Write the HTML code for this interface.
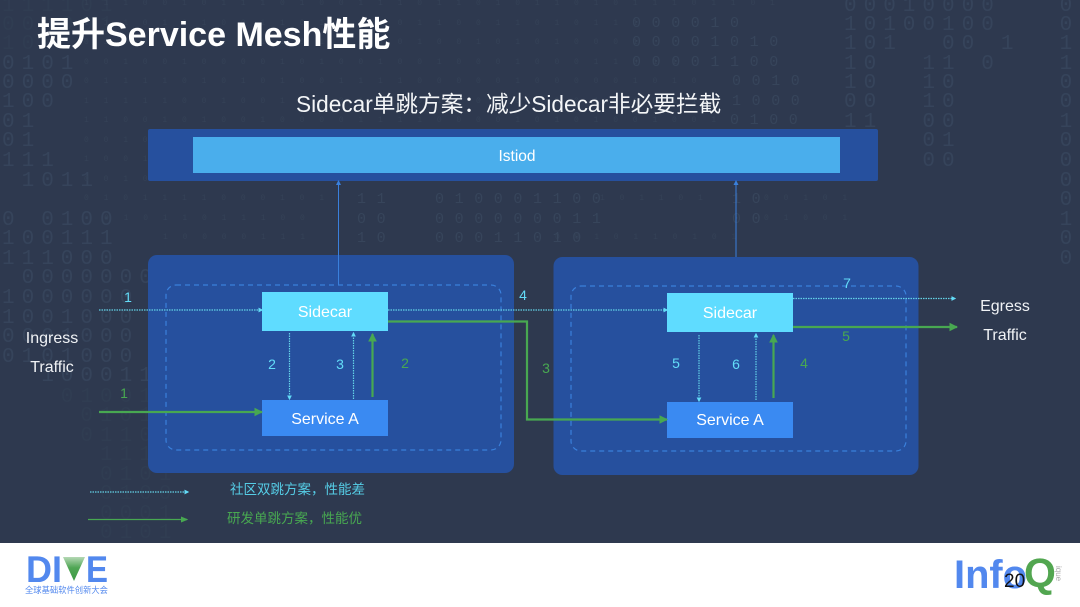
<!DOCTYPE html>
<html lang="zh-CN">
<head>
<meta charset="utf-8">
<title>提升Service Mesh性能</title>
<style>
html,body{margin:0;padding:0;width:1080px;height:607px;overflow:hidden;background:#2e394f}
svg{display:block}
text{font-family:"Liberation Sans","Noto Sans CJK SC",sans-serif}
.bm text,.bd text,.bs text,.bc text{white-space:pre;font-family:"Liberation Mono",monospace}
.bm text{font-size:21px;letter-spacing:-2.8px;fill:#36445b}
.bd text{font-size:21px;letter-spacing:-2.8px;fill:#303d52}
.bs text{font-size:8px;letter-spacing:5px;fill:#354257}
.bc text{font-size:15px;letter-spacing:.8px;fill:#37455b}
.w{fill:#fff;font-size:16px;text-anchor:middle}
.c{fill:#63dcf8;font-size:14px;text-anchor:middle}
.g{fill:#48a851;font-size:14px;text-anchor:middle}
</style>
</head>
<body>
<svg width="1080" height="607" viewBox="0 0 1080 607" xmlns="http://www.w3.org/2000/svg">
<defs>
<marker id="ag" markerWidth="4" markerHeight="4" refX="3.500" refY="2" orient="auto"><path d="M0 0L4 2L0 4Z" fill="#48a851"/></marker>
<marker id="ag2" markerWidth="6" markerHeight="6" refX="5" refY="3" orient="auto"><path d="M0 .5L6 3L0 5.500Z" fill="#48a851"/></marker>
<marker id="ac" markerWidth="4" markerHeight="4" refX="3" refY="2" orient="auto"><path d="M0 0L4 2L0 4Z" fill="#63dcf8"/></marker>
<marker id="ab" markerWidth="5" markerHeight="5" refX="4" refY="2.500" orient="auto"><path d="M0 0L5 2.500L0 5Z" fill="#3a80dc"/></marker>
<linearGradient id="vg" x1="0" y1="0" x2="0" y2="1"><stop offset="0" stop-color="#b5d8b5"/><stop offset=".45" stop-color="#4fa654"/><stop offset="1" stop-color="#3d9a45"/></linearGradient>
</defs>
<rect width="1080" height="607" fill="#2e394f"/>

<g class="bd">
<text x="2" y="11">1 1 1 1 0 1</text>
<text x="2" y="30">0 0   0 0 1</text>
<text x="2" y="49">1 0</text>
<text x="2" y="402">      0 1 0 0 1 0</text>
<text x="2" y="421">        0 1 0 1 1 1</text>
<text x="2" y="441">        0 1 1 0 1</text>
<text x="2" y="460">          1 1 1 0</text>
<text x="2" y="480">          0 1 0 1</text>
<text x="2" y="499">          0 1 0 0</text>
<text x="2" y="519">          0 0 0 1</text>
<text x="2" y="538">          0 1 0 1</text>
</g>
<g class="bm">
<text x="2" y="69">0 1 0 1</text>
<text x="2" y="88">0 0 0 0</text>
<text x="2" y="107">1 0 0</text>
<text x="2" y="127">0 1</text>
<text x="2" y="146">0 1</text>
<text x="2" y="166">1 1 1</text>
<text x="2" y="186">  1 0 1 1</text>
<text x="2" y="225">0   0 1 0 0</text>
<text x="2" y="244">1 0 0 1 1 1</text>
<text x="2" y="264">1 1 1 0 0 0</text>
<text x="2" y="283">  0 0 0 0 0 0 0</text>
<text x="2" y="303">1 0 0 0 0 0 0</text>
<text x="2" y="323">1 0 0 1 0 0 0</text>
<text x="2" y="342">0 0 0 1 0 0 0</text>
<text x="2" y="362">0 1 0 1 0 0 0</text>
<text x="2" y="381">    1 0 0 0 1 1 1</text>

<text x="844" y="11">0 0 0 1 0 0 0 0       0 1 0</text>
<text x="844" y="30">1 0 1 0 0 1 0 0       0 0 0</text>
<text x="844" y="49">1 0 1     0 0   1     1 0 1</text>
<text x="844" y="69">1 0     1 1   0       1 0</text>
<text x="844" y="88">1 0     1 0           0 1</text>
<text x="844" y="107">0 0     1 0           0 1</text>
<text x="844" y="127">1 1     0 0           1 0</text>
<text x="844" y="146">        0 1           0 1</text>
<text x="844" y="166">        0 0           0 0</text>
<text x="844" y="186">                      0 0</text>
<text x="844" y="205">                      0 1</text>
<text x="844" y="225">                      1 0</text>
<text x="844" y="244">                      0 0</text>
<text x="844" y="264">                      0</text>
</g>

<g class="bs">
<text x="84" y="5">1 1 1 0 0 1 0 1 1 1 0 1 0 0 1 1 1 0 1 1 0 1 0 1 1 0 1 0 1 1 1 0 1 1 0 1</text>
<text x="84" y="25">1 1 1 0 1 0 1 0 0 1 1 0 1 1 0 1 0 1 1 0 0 1 1 0 1 0 1 1 1</text>
<text x="84" y="44">0 1 0 0 1 1 0 1 0 1 1 0 1 1 1 0 0 1 0 0 1 0 1 0 1 0 0 0 1</text>
<text x="84" y="64">0 0 1 0 0 1 0 0 0 0 1 0 1 0 0 1 0 0 1 0 0 0 1 0 0 0 1 1 0 1 1</text>
<text x="84" y="83">0 1 1 1 1 0 1 0 1 0 1 0 0 1 1 1 1 0 0 0 0 0 1 0 0 0 0 0 1 0 1 0</text>
<text x="84" y="103">1 1 1 1 1 0 0 1 0 0 1 1 0 0 1 0 1 0 1 1 0 0 0 0 0 0 1 0 1 0 1 1</text>
<text x="84" y="122">1 1 0 0 1 0 1 0 0 1 0 0 0 0 1 1 1 1 0 0 0 0 1 0 1 0 1 0 0 1 0 0 1</text>
<text x="84" y="142">0 0 1 0 0 1 1 0 0 1 0</text>
<text x="84" y="161">1 0 0 1 1 0 1 0 1 1 0</text>
<text x="84" y="181">0 0 1 0 1 0 0 1 1 0</text>
<text x="84" y="200">0 1 0 1 1 1 1 0 0 0 1 0 1</text>
<text x="104" y="220">0 1 0 1 1 0 1 1 1 0 0</text>
<text x="163" y="239">1 0 0 0 0 1 1 1</text>
<text x="600" y="200">1 0 1 1 0 1</text>
<text x="764" y="200">0 0 1 0 1</text>
<text x="764" y="220">0 1 0 0 1</text>
<text x="555" y="239">0 0 1 0 1 1 0 1 0 1</text>
</g>

<g class="bc">
<text x="632" y="27">0 0 0 0 1 0</text>
<text x="632" y="46">0 0 0 0 1 0 1 0</text>
<text x="632" y="66">0 0 0 0 1 1 0 0</text>
<text x="732" y="85">0 0 1 0</text>
<text x="732" y="105">1 0 0 0</text>
<text x="730" y="124">0 1 0 0</text>
<text x="357" y="203">1 1</text>
<text x="357" y="223">0 0</text>
<text x="357" y="242">1 0</text>
<text x="435" y="203">0 1 0 0 0 1 1 0 0</text>
<text x="435" y="223">0 0 0 0 0 0 0 1 1</text>
<text x="435" y="242">0 0 0 1 1 0 1 0</text>
<text x="732" y="203">1 0</text>
<text x="732" y="223">0 0</text>
</g>

<text x="37" y="46" fill="#fff" font-size="34" font-weight="700">提升Service Mesh性能</text>
<text x="296" y="112" fill="#f4f6f8" font-size="22.650">Sidecar单跳方案：减少Sidecar非必要拦截</text>

<rect x="148" y="129" width="730" height="52" rx="2" fill="#26509e"/>
<rect x="193" y="137" width="647" height="36" fill="#4aaeec"/>
<text x="517" y="161" fill="#fff" font-size="15.500" text-anchor="middle">Istiod</text>

<rect x="148" y="255" width="366" height="218" rx="9" fill="#26509e"/>
<rect x="553.500" y="257" width="365" height="218" rx="9" fill="#26509e"/>
<rect x="166" y="285" width="335" height="165" rx="10" fill="none" stroke="#3a80dc" stroke-width="1.200" stroke-dasharray="5 4"/>
<rect x="571" y="286" width="335" height="165" rx="10" fill="none" stroke="#3a80dc" stroke-width="1.200" stroke-dasharray="5 4"/>

<line x1="338.500" y1="285" x2="338.500" y2="181" stroke="#3a80dc" stroke-width="1" marker-end="url(#ab)"/>
<line x1="736" y1="257" x2="736" y2="181" stroke="#3a80dc" stroke-width="1" marker-end="url(#ab)"/>

<rect x="262" y="292" width="126" height="39" fill="#5fdcff"/>
<rect x="262" y="400" width="126" height="36" fill="#3a8af2"/>
<rect x="667" y="293" width="126" height="39" fill="#5fdcff"/>
<rect x="667" y="402" width="126" height="36" fill="#3a8af2"/>
<text class="w" x="325" y="317">Sidecar</text>
<text class="w" x="325" y="424">Service A</text>
<text class="w" x="730" y="318">Sidecar</text>
<text class="w" x="730" y="425">Service A</text>

<g fill="none" stroke="#63d2e6" stroke-width="1.200" stroke-dasharray="1.500 1">
<line x1="99" y1="310" x2="262" y2="310" marker-end="url(#ac)"/>
<line x1="388" y1="310" x2="667" y2="310" marker-end="url(#ac)"/>
<line x1="289.500" y1="333" x2="289.500" y2="399" marker-end="url(#ac)"/>
<line x1="353.500" y1="399" x2="353.500" y2="333" marker-end="url(#ac)"/>
<line x1="699" y1="335" x2="699" y2="401" marker-end="url(#ac)"/>
<line x1="756" y1="400" x2="756" y2="334" marker-end="url(#ac)"/>
<line x1="793" y1="298.500" x2="955" y2="298.500" marker-end="url(#ac)"/>
<line x1="90" y1="492" x2="188" y2="492" marker-end="url(#ac)"/>
</g>

<g fill="none" stroke="#48a851" stroke-width="2.200">
<line x1="99" y1="412" x2="262" y2="412" marker-end="url(#ag)"/>
<line x1="372.500" y1="397" x2="372.500" y2="334" marker-end="url(#ag)"/>
<path d="M388 321.500H527V419.500H667" marker-end="url(#ag)"/>
<line x1="773.500" y1="398" x2="773.500" y2="335" marker-end="url(#ag)"/>
<line x1="793" y1="327" x2="957" y2="327" marker-end="url(#ag)"/>
<line x1="88" y1="519.500" x2="187" y2="519.500" stroke-width="1.200" marker-end="url(#ag2)"/>
</g>

<text class="c" x="128" y="302">1</text>
<text class="c" x="272" y="369">2</text>
<text class="c" x="340" y="369">3</text>
<text class="c" x="523" y="300">4</text>
<text class="c" x="676" y="368">5</text>
<text class="c" x="736" y="369">6</text>
<text class="c" x="847" y="288">7</text>
<text class="g" x="124" y="398">1</text>
<text class="g" x="405" y="368">2</text>
<text class="g" x="546" y="373">3</text>
<text class="g" x="804" y="368">4</text>
<text class="g" x="846" y="341">5</text>

<g fill="#f0f2f5" font-size="16" text-anchor="middle">
<text x="52" y="343">Ingress</text>
<text x="52" y="372">Traffic</text>
<text x="1005" y="311">Egress</text>
<text x="1005" y="340">Traffic</text>
</g>

<text x="230" y="494" fill="#55cde6" font-size="13.500">社区双跳方案，性能差</text>
<text x="227" y="523" fill="#48a851" font-size="13.500">研发单跳方案，性能优</text>

<rect x="0" y="543" width="1080" height="64" fill="#fff"/>
<text x="26" y="582" fill="#5288ee" font-size="37" font-weight="700" textLength="36" lengthAdjust="spacingAndGlyphs">DI</text>
<path d="M63 557H85L74 581Z" fill="url(#vg)"/>
<text x="86" y="582" fill="#5288ee" font-size="37" font-weight="700" textLength="22" lengthAdjust="spacingAndGlyphs">E</text>
<text x="25" y="593" fill="#5288ee" font-size="8.300">全球基础软件创新大会</text>

<text x="954" y="588" fill="#5288ee" font-size="40" font-weight="700" textLength="73" lengthAdjust="spacingAndGlyphs">Info</text>
<text x="1024" y="587" fill="#52a650" font-size="41" font-weight="700">Q</text>
<text x="1056" y="566" fill="#a8a8a8" font-size="8" transform="rotate(90 1056 566)">ique</text>
<text x="1004" y="587" fill="#111" font-size="19">20</text>
</svg>
</body>
</html>
